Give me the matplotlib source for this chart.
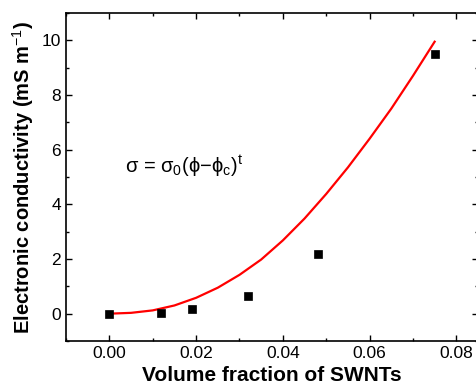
import numpy as np
import matplotlib
matplotlib.use("Agg")
import matplotlib.pyplot as plt
from matplotlib.ticker import MultipleLocator

plt.rcParams['font.family'] = ['Liberation Sans', 'DejaVu Sans']
plt.rcParams['mathtext.fontset'] = 'custom'
plt.rcParams['mathtext.rm'] = 'Liberation Sans'
plt.rcParams['mathtext.it'] = 'Liberation Sans'

# measured points
vol_frac = [0.0, 0.012, 0.019, 0.032, 0.048, 0.075]
conductivity = [0.0, 0.03, 0.18, 0.66, 2.2, 9.5]

# fitted curve
fit_x = [0.0, 0.005, 0.01, 0.015, 0.02, 0.025, 0.03, 0.035, 0.04, 0.045,
         0.05, 0.055, 0.06, 0.065, 0.07, 0.075]
fit_y = [0.0, 0.03, 0.12, 0.30, 0.58, 0.95, 1.42, 1.98, 2.68, 3.48,
         4.38, 5.35, 6.4, 7.5, 8.7, 9.95]

fig = plt.figure(figsize=(4.76, 3.91), dpi=100)
ax = fig.add_axes([66 / 476, 50 / 391, 412 / 476, 328 / 391])

ax.plot(fit_x, fit_y, color='red', lw=1.6, zorder=2)
ax.plot(vol_frac, conductivity, 's', color='black', ms=6, mew=0.5, zorder=3)

ax.text(0.0037, 5.4, r'σ = σ$_0$(ϕ−ϕ$_c$)$^t$', fontsize=14.5, va='center', ha='left')

ax.set_xlim(-0.01, 0.085)
ax.set_ylim(-1, 11)
ax.set_xticks([0.0, 0.02, 0.04, 0.06, 0.08])
ax.set_xticklabels(['0.00', '0.02', '0.04', '0.06', '0.08'])
ax.set_yticks([0, 2, 4, 6, 8, 10])
ax.xaxis.set_minor_locator(MultipleLocator(0.01))
ax.yaxis.set_minor_locator(MultipleLocator(1))
ax.tick_params(which='both', direction='in', top=True, right=True, labelsize=12.5, width=1)
ax.tick_params(which='major', length=4.5)
ax.tick_params(which='minor', length=2.5)
for s in ax.spines.values():
    s.set_linewidth(1.2)

ax.set_xlabel('Volume fraction of SWNTs', fontsize=15, fontweight='bold', labelpad=4)
ax.set_ylabel(r'Electronic conductivity (mS m$^{-1}$)', fontsize=14.5, fontweight='bold', labelpad=4)

fig.savefig('out.png', dpi=100)
